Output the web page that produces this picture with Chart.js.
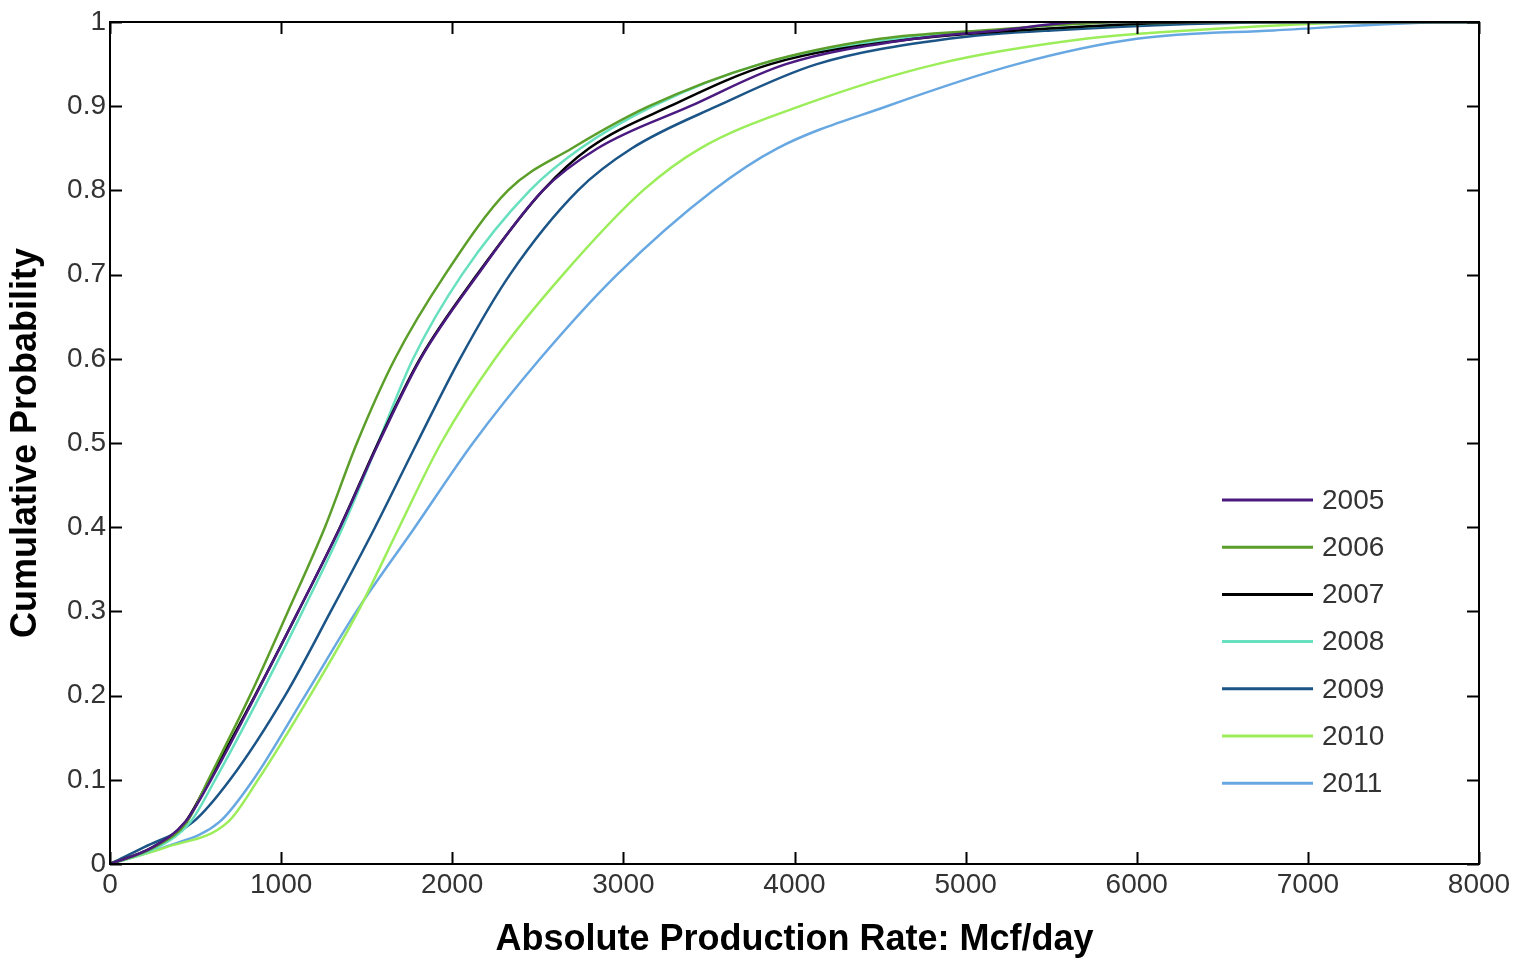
<!DOCTYPE html>
<html>
<head>
<meta charset="utf-8">
<script src="https://cdn.jsdelivr.net/npm/chart.js@4.4.1/dist/chart.umd.min.js"></script>
<style>
  html, body { margin: 0; padding: 0; background: #fff; }
  #wrap { width: 1518px; height: 958px; }
</style>
</head>
<body>
<div id="wrap"><canvas id="cdfChart" width="1518" height="958"></canvas></div>
<script>
// cumulative probability levels (shared y values)
const probLevels = [0, 0.02, 0.05, 0.1, 0.2, 0.3, 0.4, 0.5, 0.6, 0.7, 0.8, 0.85, 0.9, 0.95, 0.98, 0.99, 1, 1];

// production rate (Mcf/day) at each level, per year
const years = ['2005', '2006', '2007', '2008', '2009', '2010', '2011'];
const rate2005 = [0, 250, 440, 590, 850, 1100, 1345, 1570, 1815, 2150, 2530, 2850, 3390, 3950, 4700, 5200, 5700, 8000];
const rate2006 = [0, 260, 450, 575, 818, 1040, 1256, 1443, 1665, 1958, 2326, 2700, 3150, 3800, 4500, 5100, 6000, 8000];
const rate2007 = [0, 250, 440, 580, 847, 1100, 1344, 1566, 1811, 2145, 2530, 2800, 3272, 3860, 4700, 5300, 6500, 8000];
const rate2008 = [0, 280, 470, 614, 877, 1125, 1360, 1566, 1771, 2057, 2454, 2750, 3173, 3800, 4600, 5300, 6500, 8000];
const rate2009 = [0, 200, 486, 701, 1023, 1290, 1549, 1794, 2045, 2337, 2735, 3050, 3547, 4131, 4900, 5500, 7000, 8000];
const rate2010 = [0, 330, 690, 865, 1169, 1450, 1690, 1935, 2250, 2647, 3115, 3450, 4032, 4832, 5700, 6300, 7500, 8000];
const rate2011 = [0, 320, 640, 837, 1140, 1440, 1782, 2121, 2513, 2963, 3524, 3900, 4540, 5300, 6000, 6800, 7900, 8000];

const lineColors = ['#4a1a80', '#5c9e2a', '#000000', '#66e0bf', '#1b5486', '#9ced5a', '#68a8e2'];
const allRates = [rate2005, rate2006, rate2007, rate2008, rate2009, rate2010, rate2011];

const xTicks = [0, 1000, 2000, 3000, 4000, 5000, 6000, 7000, 8000];
const yTicks = [0, 0.1, 0.2, 0.3, 0.4, 0.5, 0.6, 0.7, 0.8, 0.9, 1];

const tickFont = { family: 'Liberation Sans, Arial, sans-serif', size: 28 };
const titleFont = { family: 'Liberation Sans, Arial, sans-serif', size: 36, weight: 'bold' };

// box around plot with inward ticks on all sides, matlab style
const boxPlugin = {
    id: 'boxTicks',
    afterDatasetsDraw(chart) {
        const ctx = chart.ctx;
        const a = chart.chartArea;
        const xs = chart.scales.x, ys = chart.scales.y;
        const len = 12;
        ctx.save();
        ctx.strokeStyle = '#000';
        ctx.lineWidth = 2;
        ctx.strokeRect(a.left, a.top, a.right - a.left, a.bottom - a.top);
        ctx.beginPath();
        xTicks.forEach(function (v) {
            const px = Math.round(xs.getPixelForValue(v)) + 0.5;
            ctx.moveTo(px, a.bottom); ctx.lineTo(px, a.bottom - len);
            ctx.moveTo(px, a.top); ctx.lineTo(px, a.top + len);
        });
        yTicks.forEach(function (v) {
            const py = Math.round(ys.getPixelForValue(v)) + 0.5;
            ctx.moveTo(a.left, py); ctx.lineTo(a.left + len, py);
            ctx.moveTo(a.right, py); ctx.lineTo(a.right - len, py);
        });
        ctx.stroke();
        ctx.restore();
    },
    afterDraw(chart) {
        // legend in lower right, no frame
        const ctx = chart.ctx;
        const a = chart.chartArea;
        const x0 = a.right - 257, y0 = a.bottom - 364;
        ctx.save();
        ctx.font = '28px Liberation Sans, Arial, sans-serif';
        ctx.textBaseline = 'middle';
        chart.data.datasets.forEach(function (ds, i) {
            const y = y0 + i * 47.2;
            ctx.strokeStyle = ds.borderColor;
            ctx.lineWidth = 3;
            ctx.beginPath();
            ctx.moveTo(x0, y); ctx.lineTo(x0 + 91, y);
            ctx.stroke();
            ctx.fillStyle = '#333';
            ctx.fillText(ds.label, x0 + 100, y + 1);
        });
        ctx.restore();
    }
};

const datasets = years.map(function (yr, i) {
    return {
        label: yr,
        data: allRates[i].map(function (x, j) { return { x: x, y: probLevels[j] }; }),
        borderColor: lineColors[i],
        backgroundColor: lineColors[i],
        borderWidth: 2.5,
        pointRadius: 0,
        cubicInterpolationMode: 'monotone',
        fill: false
    };
});

const ctx = document.getElementById('cdfChart').getContext('2d');
const cdfChart = new Chart(ctx, {
    type: 'line',
    data: { datasets: datasets },
    options: {
        responsive: false,
        animation: false,
        devicePixelRatio: 1,
        layout: { padding: { top: 22, right: 39, left: 0, bottom: 0 } },
        plugins: {
            legend: { display: false },
            tooltip: { enabled: false }
        },
        scales: {
            x: {
                type: 'linear',
                min: 0,
                max: 8000,
                afterBuildTicks: function (scale) { scale.ticks = xTicks.map(function (v) { return { value: v }; }); },
                afterFit: function (scale) { scale.height = 94; },
                grid: { display: false, drawTicks: false },
                border: { display: false },
                ticks: {
                    font: tickFont, color: '#333', padding: 4, maxRotation: 0,
                    callback: function (v) { return String(v); }
                },
                title: { display: true, text: 'Absolute Production Rate: Mcf/day', font: titleFont, color: '#000', padding: { top: 4, bottom: -4 } }
            },
            y: {
                type: 'linear',
                min: 0,
                max: 1,
                afterBuildTicks: function (scale) { scale.ticks = yTicks.map(function (v) { return { value: v }; }); },
                afterFit: function (scale) { scale.width = 110; },
                grid: { display: false, drawTicks: false },
                border: { display: false },
                ticks: {
                    font: tickFont, color: '#333', padding: 4,
                    callback: function (v) { return String(Math.round(v * 10) / 10); }
                },
                title: { display: true, text: 'Cumulative Probability', font: titleFont, color: '#000', padding: { bottom: 0 } }
            }
        }
    },
    plugins: [boxPlugin]
});
</script>
</body>
</html>
